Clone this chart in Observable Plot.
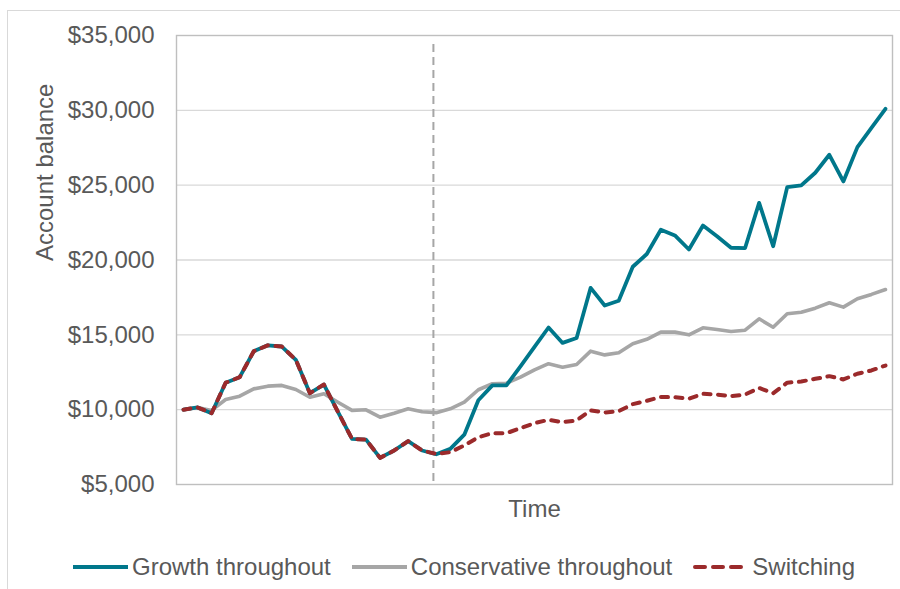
<!DOCTYPE html>
<html>
<head>
<meta charset="utf-8">
<script src="https://cdn.jsdelivr.net/npm/d3@7"></script>
<script src="https://cdn.jsdelivr.net/npm/@observablehq/plot@0.6"></script>
<style>
  html, body { margin: 0; padding: 0; background: #fff; overflow: hidden; }
  body { width: 900px; height: 589px; position: relative; font-family: "Liberation Sans", Arial, sans-serif; }
  #border { position: absolute; left: 7px; top: 10px; width: 1000px; height: 1000px; border: 1px solid #d9d9d9; box-sizing: border-box; }
  #chart { position: absolute; left: 0; top: 0; width: 900px; }
  #legend { position: absolute; left: 73px; top: 552px; height: 30px; display: flex; align-items: center; font-size: 24px; color: #595959; white-space: nowrap; }
  #legend .item { display: flex; align-items: center; margin-right: 21px; }
  #legend svg { margin-right: 4px; }
  #legend .item.dashed svg { margin-right: 9px; }
</style>
</head>
<body>
<div id="border"></div>
<div id="chart"></div>
<div id="legend"></div>
<script>
// Account balance over time (time index 0..50)
const growth = [10000, 10150, 9760, 11800, 12170, 13900, 14300, 14220, 13330, 11100,
  11680, 9850, 8050, 8000, 6780, 7270, 7900, 7270, 7020, 7380,
  8330, 10630, 11620, 11620, 12900, 14200, 15490, 14460, 14790, 18140,
  16960, 17280, 19550, 20400, 22020, 21640, 20700, 22300, 21590, 20820,
  20800, 23820, 20920, 24870, 24980, 25830, 27030, 25250, 27540, 28820, 30100];
const conservative = [10000, 10150, 9950, 10680, 10900, 11390, 11570, 11620, 11350, 10830,
  11060, 10500, 9950, 9990, 9500, 9760, 10060, 9860, 9800, 10060,
  10500, 11330, 11730, 11770, 12170, 12660, 13070, 12840, 13020, 13910,
  13660, 13800, 14400, 14700, 15180, 15180, 15000, 15470, 15360, 15220,
  15310, 16070, 15510, 16410, 16510, 16780, 17140, 16850, 17410, 17700, 18030];
const switching = [10000, 10150, 9760, 11800, 12170, 13900, 14300, 14220, 13330, 11100,
  11680, 9850, 8050, 8000, 6780, 7270, 7900, 7270, 7040, 7160,
  7610, 8160, 8430, 8430, 8760, 9100, 9320, 9160, 9280, 9950,
  9810, 9900, 10370, 10590, 10850, 10830, 10730, 11060, 11010, 10900,
  11010, 11450, 11100, 11800, 11880, 12060, 12240, 12020, 12400, 12620, 12950];
const switchTime = 17.8;
const yTicks = [5000, 10000, 15000, 20000, 25000, 30000, 35000];
const seriesNames = ["Growth throughout", "Conservative throughout", "Switching"];
const colors = {growth: "#00778b", conservative: "#a6a6a6", switching: "#9b2a2b"};

const toRows = arr => arr.map((v, i) => ({t: i, v}));
const fmt = d => "$" + d3.format(",")(d);

const chart = Plot.plot({
  width: 900,
  height: 530,
  marginLeft: 176,
  marginRight: 8,
  marginTop: 35,
  marginBottom: 46,
  x: {domain: [-0.5, 50.5], axis: null},
  y: {domain: [5000, 35000], axis: null},
  style: {fontFamily: "'Liberation Sans', Arial, sans-serif", fontSize: "24px", color: "#595959", background: "transparent", overflow: "visible"},
  marks: [
    Plot.ruleY(yTicks.slice(1, -1), {stroke: "#d9d9d9", strokeWidth: 1.4}),
    Plot.frame({stroke: "#bfbfbf", strokeWidth: 1.4}),
    Plot.axisY({ticks: yTicks, tickSize: 0, tickPadding: 22, tickFormat: fmt, label: null, fontSize: 24, fill: "#595959"}),
    Plot.text(["Account balance"], {frameAnchor: "left", rotate: -90, dx: -131, dy: 1, text: d => d, fontSize: 24, fill: "#595959"}),
    Plot.text(["Time"], {frameAnchor: "bottom", dy: 32, text: d => d, fontSize: 24, fill: "#595959"}),
    Plot.ruleX([switchTime], {y1: 34400, y2: 5000, stroke: "#a6a6a6", strokeWidth: 2, strokeDasharray: "8,5"}),
    Plot.line(toRows(conservative), {x: "t", y: "v", stroke: colors.conservative, strokeWidth: 3.6, strokeLinejoin: "round"}),
    Plot.line(toRows(growth), {x: "t", y: "v", stroke: colors.growth, strokeWidth: 3.8, strokeLinejoin: "round"}),
    Plot.line(toRows(switching), {x: "t", y: "v", stroke: colors.switching, strokeWidth: 4, strokeDasharray: "7,7.5", strokeLinecap: "round", strokeLinejoin: "round"})
  ]
});
document.getElementById("chart").appendChild(chart);

// Legend
const legend = d3.select("#legend");
const items = [
  {name: seriesNames[0], color: colors.growth, dash: null, w: 55},
  {name: seriesNames[1], color: colors.conservative, dash: null, w: 55},
  {name: seriesNames[2], color: colors.switching, dash: "10,8", w: 50}
];
items.forEach(it => {
  const item = legend.append("div").attr("class", it.dash ? "item dashed" : "item");
  const svg = item.append("svg").attr("width", it.w).attr("height", 8);
  svg.append("line").attr("x1", it.dash ? 2 : 0).attr("x2", it.w).attr("y1", 4).attr("y2", 4)
    .attr("stroke", it.color).attr("stroke-width", 4)
    .attr("stroke-linecap", it.dash ? "round" : "butt")
    .attr("stroke-dasharray", it.dash);
  item.append("span").text(it.name);
});
</script>
</body>
</html>
